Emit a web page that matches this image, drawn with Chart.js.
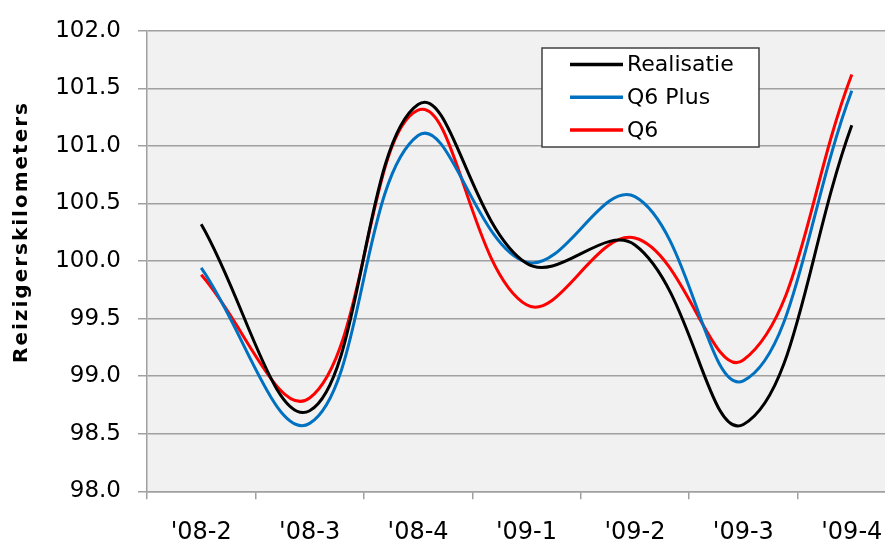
<!DOCTYPE html>
<html>
<head>
<meta charset="utf-8">
<script src="https://cdn.jsdelivr.net/npm/chart.js@4.4.1/dist/chart.umd.min.js"></script>
<style>
  html, body { margin: 0; padding: 0; background: #ffffff; overflow: hidden; width: 885px; height: 540px; }
  #wrap { position: absolute; left: 0; top: 0; width: 906px; height: 560px; }
</style>
</head>
<body>
<div id="wrap"><canvas id="chart"></canvas></div>
<script>
// Quarters and passenger-kilometre index per series
const quarters = ["'08-2", "'08-3", "'08-4", "'09-1", "'09-2", "'09-3", "'09-4"];
const realisatie = [100.32, 98.70, 101.36, 99.98, 100.14, 98.58, 101.18];
const q6Plus = [99.94, 98.59, 101.09, 99.99, 100.56, 98.96, 101.48];
const q6 = [99.88, 98.81, 101.31, 99.62, 100.20, 99.14, 101.62];
const seriesNames = ['Realisatie', 'Q6 Plus', 'Q6'];
const yTitle = 'Reizigerskilometers';

const seriesColors = ['#000000', '#0070c0', '#ff0000'];
const gridColor = '#a0a0a0';

// light grey plot area
const plotBackground = {
  id: 'plotBackground',
  beforeDraw(chart) {
    const { ctx, chartArea: a } = chart;
    ctx.save();
    ctx.fillStyle = '#f1f1f1';
    ctx.fillRect(a.left, a.top, a.right - a.left, a.bottom - a.top);
    ctx.restore();
  }
};

// rotated axis title placed beside the value axis
const axisTitle = {
  id: 'axisTitle',
  afterDraw(chart) {
    const { ctx } = chart;
    ctx.save();
    ctx.translate(22, 232);
    ctx.rotate(-Math.PI / 2);
    ctx.font = 'bold 20px "DejaVu Sans"';
    if ('letterSpacing' in ctx) ctx.letterSpacing = '2px';
    ctx.fillStyle = '#000000';
    ctx.textAlign = 'center';
    ctx.textBaseline = 'middle';
    ctx.fillText(yTitle, 0, 0);
    ctx.restore();
  }
};

// boxed legend inside the plot area
const boxedLegend = {
  id: 'boxedLegend',
  afterDraw(chart) {
    const { ctx } = chart;
    const box = { x: 542, y: 48, w: 217, h: 99 };
    ctx.save();
    ctx.fillStyle = '#ffffff';
    ctx.fillRect(box.x, box.y, box.w, box.h);
    ctx.strokeStyle = '#404040';
    ctx.lineWidth = 1.5;
    ctx.strokeRect(box.x, box.y, box.w, box.h);
    ctx.font = '22px "DejaVu Sans"';
    ctx.textAlign = 'left';
    ctx.textBaseline = 'middle';
    chart.data.datasets.forEach((ds, i) => {
      const y = 64.5 + i * 32.7;
      ctx.strokeStyle = ds.borderColor;
      ctx.lineWidth = 3.5;
      ctx.beginPath();
      ctx.moveTo(570, y);
      ctx.lineTo(623, y);
      ctx.stroke();
      ctx.fillStyle = '#000000';
      ctx.fillText(ds.label, 627, y + 1);
    });
    ctx.restore();
  }
};

const seriesData = [realisatie, q6Plus, q6];

new Chart(document.getElementById('chart'), {
  type: 'line',
  data: {
    labels: quarters,
    datasets: seriesData.map((values, i) => ({
      label: seriesNames[i],
      data: values,
      borderColor: seriesColors[i],
      backgroundColor: seriesColors[i],
      borderWidth: 3,
      pointRadius: 0,
      tension: 0.4,
      fill: false
    }))
  },
  options: {
    responsive: true,
    maintainAspectRatio: false,
    animation: false,
    layout: { padding: { top: 26, left: 0, right: 0, bottom: 0 } },
    plugins: {
      legend: { display: false },
      tooltip: { enabled: false }
    },
    scales: {
      x: {
        offset: true,
        grid: {
          offset: true,
          drawOnChartArea: false,
          drawTicks: true,
          tickLength: 8,
          color: gridColor,
          lineWidth: 1.5
        },
        border: { display: true, color: gridColor, width: 1.5 },
        ticks: {
          color: '#000000',
          font: { family: 'DejaVu Sans', size: 24 },
          padding: 19,
          maxRotation: 0,
          autoSkip: false
        },
        afterFit(scale) { scale.height = 68.7; }
      },
      y: {
        min: 98,
        max: 102,
        grid: {
          color: gridColor,
          lineWidth: 1.5,
          drawTicks: true,
          tickLength: 9
        },
        border: { display: true, color: gridColor, width: 1.5 },
        ticks: {
          stepSize: 0.5,
          color: '#000000',
          font: { family: 'DejaVu Sans', size: 23 },
          padding: 17,
          callback: (v) => Number(v).toFixed(1)
        },
        afterFit(scale) { scale.width = 147; }
      }
    }
  },
  plugins: [plotBackground, axisTitle, boxedLegend]
});
</script>
</body>
</html>
